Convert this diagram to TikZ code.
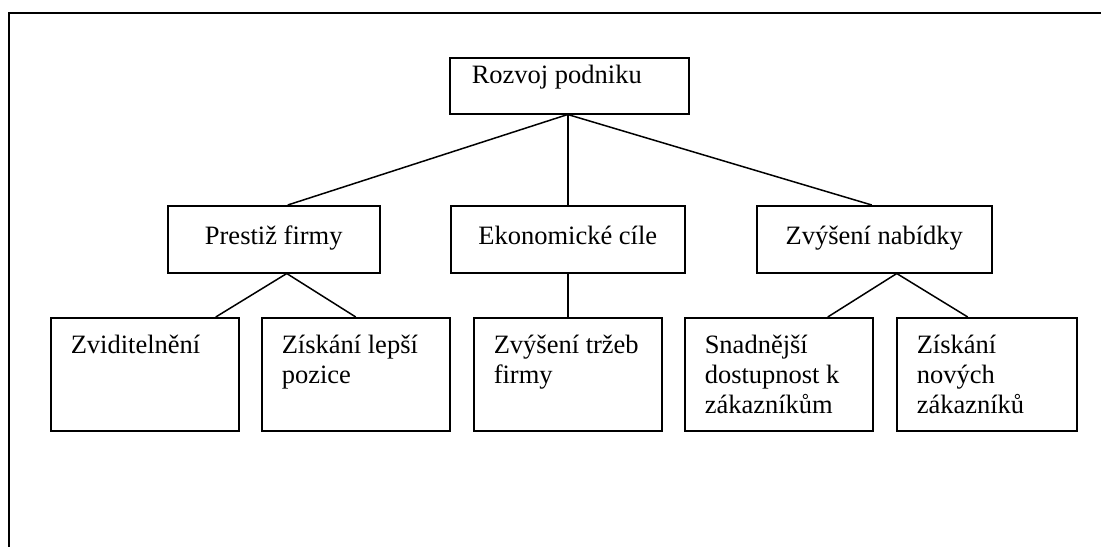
\documentclass[tikz,border=0pt]{standalone}
\usepackage{fontspec}
\setmainfont{Liberation Serif}

\begin{document}
\begin{tikzpicture}[x=1pt,y=-1pt,
  every node/.style={font=\fontsize{26.5pt}{30pt}\selectfont},
  box/.style={draw, line width=1.5pt, inner ysep=0pt, anchor=north west},
  midbox/.style={box, minimum height=67pt, text height=17pt, text depth=7pt},
  % top-aligned, left-aligned text: first baseline 36pt under the top edge
  leaf/.style={box, inner xsep=20pt, text width=#1-40pt, align=flush left,
               text height=36pt, text depth=77pt},
  link/.style={line width=1.5pt},
  frame/.style={line width=2pt}]

\useasboundingbox (0,0) rectangle (1101,547);

% page frame (top and left edges only)
\coordinate (ftr) at (1101,13);
\coordinate (ftl) at (9,13);
\coordinate (fbl) at (9,547);
\draw[frame] (ftr) -- (ftl) -- (fbl);

% root
\node[box, inner xsep=22pt, text width=195pt, align=flush left,
      text height=26pt, text depth=30pt] (root) at (449,57) {Rozvoj podniku};

% second level
\node[midbox, minimum width=212pt] (m1) at (167,205) {Prestiž firmy};
\node[midbox, minimum width=234pt] (m2) at (450,205) {Ekonomické cíle};
\node[midbox, minimum width=235pt] (m3) at (756,205) {Zvýšení nabídky};

% third level
\node[leaf=188pt] (l1) at (50,317)  {Zviditelnění};
\node[leaf=188pt] (l2) at (261,317) {Získání lepší\\pozice};
\node[leaf=188pt] (l3) at (473,317) {Zvýšení tržeb\\firmy};
\node[leaf=188pt] (l4) at (684,317) {Snadnější\\dostupnost k\\zákazníkům};
\node[leaf=180pt] (l5) at (896,317) {Získání\\nových\\zákazníků};

% connectors
\draw[link] ([xshift=-1.5pt]root.south) -- ([xshift=14pt]m1.north);
\draw[link] ([xshift=-1.5pt]root.south) -- (m2.north);
\draw[link] ([xshift=-1.5pt]root.south) -- ([xshift=-2.5pt]m3.north);

\draw[link] ([xshift=13pt]m1.south) -- ([xshift=71pt]l1.north);
\draw[link] ([xshift=13pt]m1.south) -- (l2.north);

\draw[link] (m2.south) -- (l3.north);

\draw[link] ([xshift=22.5pt]m3.south) -- ([xshift=49pt]l4.north);
\draw[link] ([xshift=22.5pt]m3.south) -- ([xshift=-19pt]l5.north);
\end{tikzpicture}
\end{document}
